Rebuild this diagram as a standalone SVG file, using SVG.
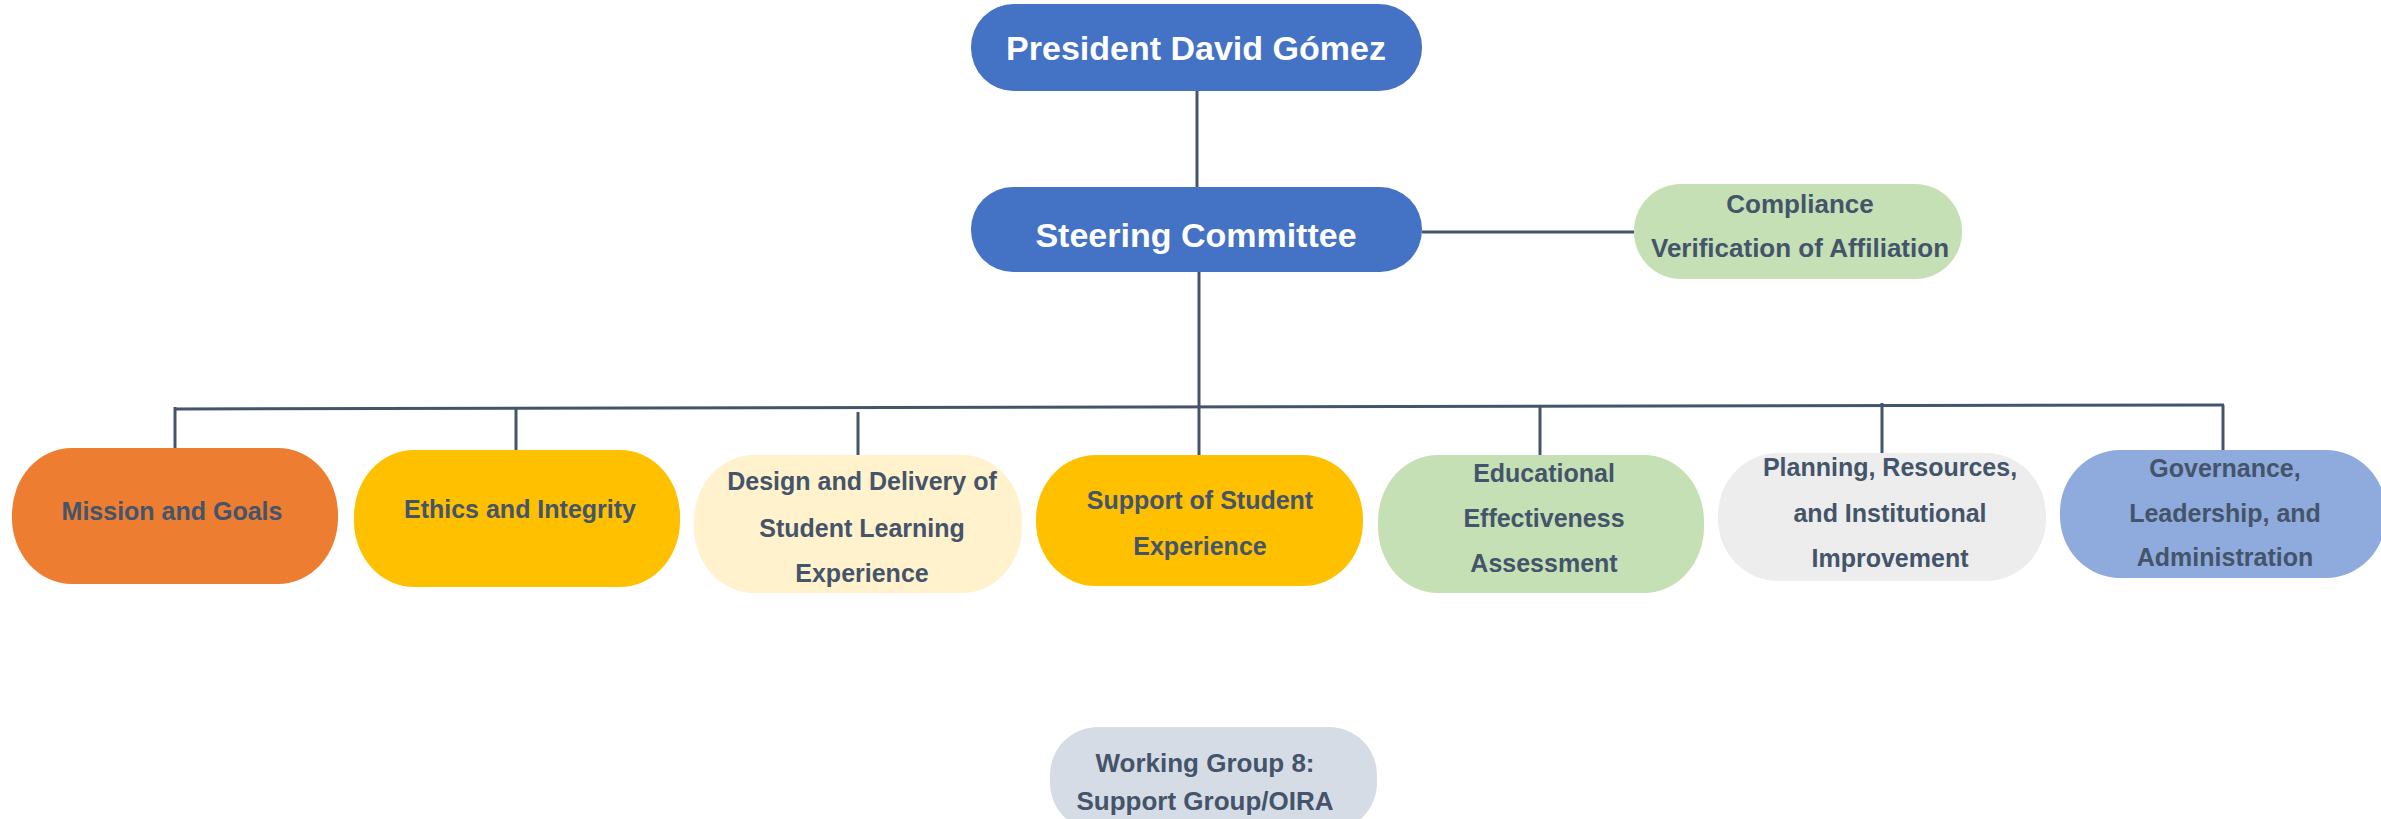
<svg xmlns="http://www.w3.org/2000/svg" width="2381" height="819" viewBox="0 0 2381 819">
<style>
.t{font-family:"Liberation Sans",Arial,sans-serif;font-weight:bold;text-anchor:middle;fill:#44546A;font-size:25px}
.w{fill:#FFFFFF;font-size:34px}
.c{font-size:26px}
.g{font-size:26px}
.ln{stroke:#44546A;stroke-width:3;fill:none}
</style>
<rect width="2381" height="819" fill="#FFFFFF"/>
<g id="connectors">
<line class="ln" x1="1197" y1="91" x2="1197" y2="187"/>
<line class="ln" x1="1422" y1="232" x2="1634" y2="232"/>
<line class="ln" x1="1199" y1="272" x2="1199" y2="457"/>
<line class="ln" x1="175" y1="409" x2="2224" y2="405"/>
<line class="ln" x1="175" y1="407" x2="175" y2="455"/>
<line class="ln" x1="516" y1="409" x2="516" y2="451"/>
<line class="ln" x1="858" y1="412" x2="858" y2="456"/>
<line class="ln" x1="1540" y1="406" x2="1540" y2="456"/>
<line class="ln" x1="1882" y1="403" x2="1882" y2="454"/>
<line class="ln" x1="2223" y1="405" x2="2223" y2="451"/>
</g>
<g id="president">
<rect x="971" y="4" width="451" height="87" rx="43" fill="#4472C4"/>
<text class="t w" x="1196" y="60">President David Gómez</text>
</g>
<g id="steering">
<rect x="971" y="187" width="451" height="85" rx="42" fill="#4472C4"/>
<text class="t w" x="1196" y="247">Steering Committee</text>
</g>
<g id="compliance">
<rect x="1634" y="184" width="328" height="95" rx="47" fill="#C5E0B4"/>
<text class="t c" x="1800" y="213">Compliance</text>
<text class="t c" x="1800" y="257">Verification of Affiliation</text>
</g>
<g id="mission">
<rect x="12" y="448" width="326" height="136" rx="60" ry="66" fill="#ED7D31"/>
<text class="t" x="172" y="520">Mission and Goals</text>
</g>
<g id="ethics">
<rect x="354" y="450" width="326" height="137" rx="60" ry="66" fill="#FFC000"/>
<text class="t" x="520" y="518">Ethics and Integrity</text>
</g>
<g id="design">
<rect x="694" y="455" width="328" height="138" rx="60" ry="66" fill="#FFF2CC"/>
<text class="t" x="862" y="490">Design and Delivery of</text>
<text class="t" x="862" y="537">Student Learning</text>
<text class="t" x="862" y="582">Experience</text>
</g>
<g id="support">
<rect x="1036" y="455" width="327" height="131" rx="60" ry="64" fill="#FFC000"/>
<text class="t" x="1200" y="509">Support of Student</text>
<text class="t" x="1200" y="555">Experience</text>
</g>
<g id="educational">
<rect x="1378" y="455" width="326" height="138" rx="60" ry="66" fill="#C5E0B4"/>
<text class="t" x="1544" y="482">Educational</text>
<text class="t" x="1544" y="527">Effectiveness</text>
<text class="t" x="1544" y="572">Assessment</text>
</g>
<g id="planning">
<rect x="1718" y="453" width="328" height="128" rx="60" ry="62" fill="#EDEDED"/>
<text class="t" x="1890" y="476">Planning, Resources,</text>
<text class="t" x="1890" y="522">and Institutional</text>
<text class="t" x="1890" y="567">Improvement</text>
</g>
<g id="governance">
<rect x="2060" y="450" width="326" height="128" rx="60" ry="62" fill="#8FAADC"/>
<text class="t" x="2225" y="477">Governance,</text>
<text class="t" x="2225" y="522">Leadership, and</text>
<text class="t" x="2225" y="566">Administration</text>
</g>
<g id="working-group">
<rect x="1050" y="727" width="327" height="104" rx="48" fill="#D6DCE5"/>
<text class="t g" x="1205" y="772">Working Group 8:</text>
<text class="t g" x="1205" y="810">Support Group/OIRA</text>
</g>
</svg>
